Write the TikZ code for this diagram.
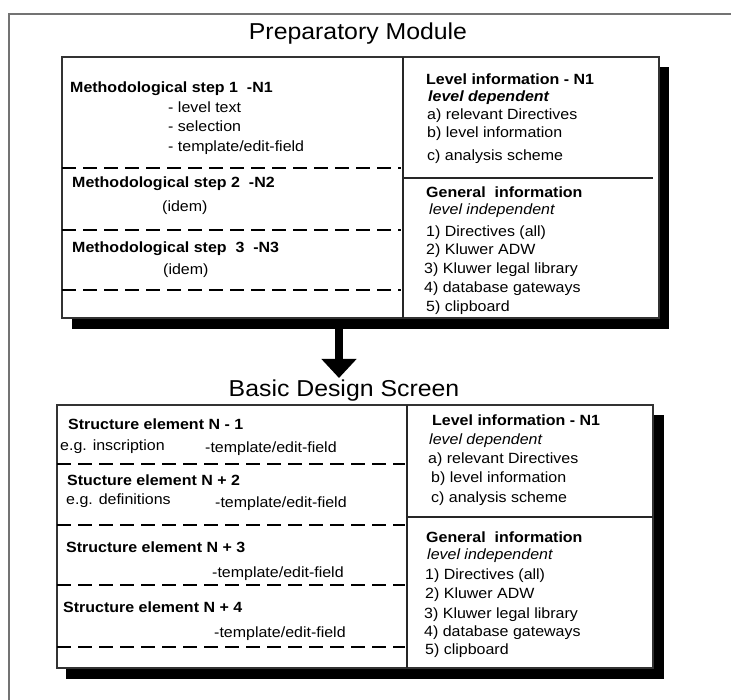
\documentclass[tikz,border=0pt]{standalone}
\usepackage{fontspec}
\setmainfont{Liberation Sans}[FakeStretch=1.08]
\usetikzlibrary{arrows.meta}
\begin{document}
\begin{tikzpicture}[x=1pt,y=-1pt,
  txt/.style={anchor=base west, inner sep=0pt, font=\fontsize{14.8}{17}\selectfont},
  btxt/.style={txt, font=\fontsize{14.8}{17}\selectfont\bfseries},
  itxt/.style={txt, font=\fontsize{14.8}{17}\selectfont\itshape},
  bitxt/.style={txt, font=\fontsize{14.8}{17}\selectfont\bfseries\itshape},
  ttl/.style={anchor=base, inner sep=0pt, font=\fontsize{23}{26}\selectfont},
  boxline/.style={draw=black!80, line width=1.1pt},
  dashline/.style={line width=2.4pt, dash pattern=on 14pt off 7pt},
  solidline/.style={draw=black!85, line width=1.1pt}]
\useasboundingbox (0,0) rectangle (731,700);
\fill[white] (0,0) rectangle (731,700);
\draw[black!55, line width=1.5pt] (9,700) -- (9,14) -- (731,14);

% ---------- Preparatory module ----------
\node[ttl] (t1) at (358,40) {Preparatory Module};
\fill[black] (72,67) rectangle (669,329);
\draw[boxline, fill=white] (62,57) rectangle (659,318);
\draw[solidline] (403,57) -- (403,318);
\draw[solidline] (403,178) -- (653,178);
\foreach \yy in {168,230,290} \draw[dashline] (62,\yy) -- (401,\yy);

\node[btxt] (m1) at (70,93) {Methodological step 1\ \ -N1};
\node[txt] (m1a) at (168,113) {- level text};
\node[txt] (m1b) at (168,132) {- selection};
\node[txt] (m1c) at (168,152) {- template/edit-field};
\node[btxt] (m2) at (72,188) {Methodological step 2\ \ -N2};
\node[txt] (m2a) at (162,212) {(idem)};
\node[btxt] (m3) at (72,253) {Methodological step\ \ 3\ \ -N3};
\node[txt] (m3a) at (163,275) {(idem)};

\node[btxt] (l1) at (426,85) {Level information - N1};
\node[bitxt] (l1a) at (428,102) {level dependent};
\node[txt] (l1b) at (427,120) {a) relevant Directives};
\node[txt] (l1c) at (427,138) {b) level information};
\node[txt] (l1d) at (427,161) {c) analysis scheme};
\node[btxt] (g1) at (426,198) {General\ \ information};
\node[itxt] (g1a) at (429,215) {level independent};
\node[txt] (g1b) at (426,237) {1) Directives (all)};
\node[txt] (g1c) at (426,255) {2) Kluwer ADW};
\node[txt] (g1d) at (424,274) {3) Kluwer legal library};
\node[txt] (g1e) at (424,293) {4) database gateways};
\node[txt] (g1f) at (426,312) {5) clipboard};

% ---------- arrow ----------
\coordinate (arrstart) at (339,329);
\coordinate (arrtip) at (339,378);
\draw[line width=8.5pt, -{Triangle[width=34pt,length=19pt]}] (arrstart) -- (arrtip);

% ---------- Basic design screen ----------
\node[ttl] (t2) at (344,397) {Basic Design Screen};
\fill[black] (66,415) rectangle (664,679);
\draw[boxline, fill=white] (57,405) rectangle (653,668);
\draw[solidline] (407,405) -- (407,668);
\draw[solidline] (407,517) -- (653,517);
\foreach \yy in {464,525,585,647} \draw[dashline] (57,\yy) -- (405,\yy);

\node[btxt] (s1) at (68,430) {Structure element N - 1};
\node[txt] (s1a) at (60,450) {e.g. inscription};
\node[txt] (s1b) at (205,452) {-template/edit-field};
\node[btxt] (s2) at (67,485) {Stucture element N + 2};
\node[txt] (s2a) at (66,504) {e.g. definitions};
\node[txt] (s2b) at (215,507) {-template/edit-field};
\node[btxt] (s3) at (66,552) {Structure element N + 3};
\node[txt] (s3a) at (212,577) {-template/edit-field};
\node[btxt] (s4) at (63,612) {Structure element N + 4};
\node[txt] (s4a) at (214,637) {-template/edit-field};

\node[btxt] (l2) at (432,425) {Level information - N1};
\node[itxt] (l2a) at (429,445) {level dependent};
\node[txt] (l2b) at (428,463) {a) relevant Directives};
\node[txt] (l2c) at (431,482) {b) level information};
\node[txt] (l2d) at (431,502) {c) analysis scheme};
\node[btxt] (g2) at (426,542) {General\ \ information};
\node[itxt] (g2a) at (427,559) {level independent};
\node[txt] (g2b) at (425,579) {1) Directives (all)};
\node[txt] (g2c) at (425,598) {2) Kluwer ADW};
\node[txt] (g2d) at (424,618) {3) Kluwer legal library};
\node[txt] (g2e) at (424,636) {4) database gateways};
\node[txt] (g2f) at (425,654) {5) clipboard};
\end{tikzpicture}
\end{document}
